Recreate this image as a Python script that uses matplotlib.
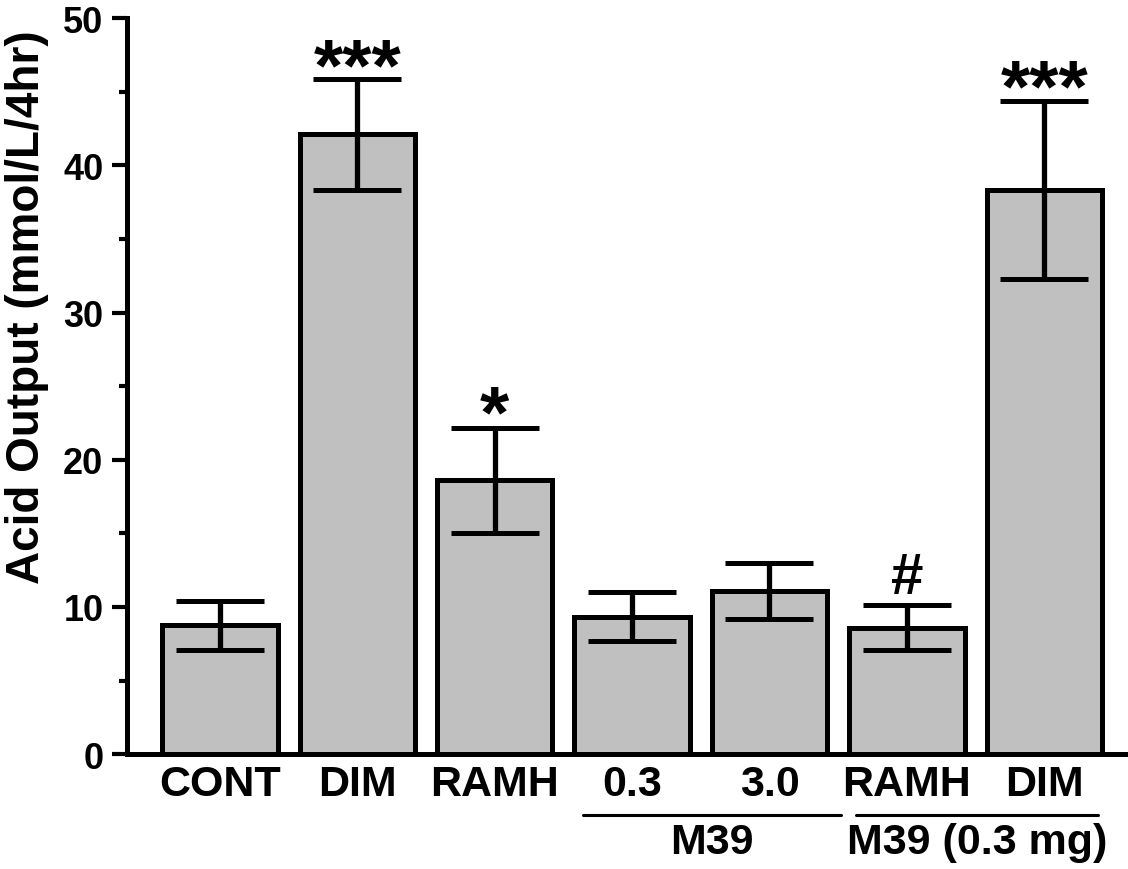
import matplotlib
matplotlib.use("Agg")
import matplotlib.pyplot as plt
from matplotlib.ticker import MultipleLocator

plt.rcParams["font.family"] = ["Liberation Sans", "DejaVu Sans"]
plt.rcParams["font.weight"] = "bold"

CATEGORIES = ["CONT", "DIM", "RAMH", "0.3", "3.0", "RAMH", "DIM"]
MEANS = [8.75, 42.1, 18.6, 9.35, 11.1, 8.6, 38.35]
ERRORS = [1.65, 3.75, 3.55, 1.65, 1.9, 1.5, 6.05]
MARKS = ["", "***", "*", "", "", "#", "***"]
GROUPS = [("M39", 2.64, 4.52), ("M39 (0.3 mg)", 4.63, 6.39)]

BAR_COLOR = "#c0c0c0"

fig = plt.figure(figsize=(11.28, 8.70), dpi=100)
ax = fig.add_axes([0.1126, 0.132, 0.8874, 0.846])

x = list(range(len(CATEGORIES)))
ax.bar(x, MEANS, width=0.84, color=BAR_COLOR, edgecolor="black", linewidth=3.6, zorder=2)
ax.errorbar(x, MEANS, yerr=ERRORS, fmt="none", ecolor="black", elinewidth=3.8,
            capsize=32, capthick=3.6, zorder=3)

# offsets tuned so the glyphs sit just above the caps
mark_style = {"***": (54, 0.65), "*": (54, 0.75), "#": (42, 1.9)}
for xi, m, e, mark in zip(x, MEANS, ERRORS, MARKS):
    if not mark:
        continue
    size, pad = mark_style[mark]
    ax.text(xi, m + e + pad, mark, ha="center", va="center", fontsize=size,
            fontweight="bold", zorder=4)

ax.set_xlim(-0.677, 6.61)
ax.set_ylim(0, 50)
ax.set_xticks(x, CATEGORIES)
ax.yaxis.set_major_locator(MultipleLocator(10))
ax.yaxis.set_minor_locator(MultipleLocator(5))
ax.tick_params(axis="x", length=0, pad=7, labelsize=31)
ax.tick_params(axis="y", which="major", direction="out", length=11, width=3, labelsize=26, pad=6)
ax.tick_params(axis="y", which="minor", direction="out", length=6, width=3)
for lab in ax.get_xticklabels() + ax.get_yticklabels():
    lab.set_fontweight("bold")

for side in ["top", "right"]:
    ax.spines[side].set_visible(False)
for side in ["left", "bottom"]:
    ax.spines[side].set_linewidth(3.6)

ax.set_ylabel("Acid Output (mmol/L/4hr)", fontsize=33, fontweight="bold", va="center")
ax.yaxis.set_label_coords(-0.1, 0.609)

trans = ax.get_xaxis_transform()
for name, x0, x1 in GROUPS:
    ax.plot([x0, x1], [-0.083, -0.083], color="black", linewidth=2.2, transform=trans,
            clip_on=False, solid_capstyle="round")
    ax.text((x0 + x1) / 2, -0.12, name, transform=trans, ha="center", va="center",
            fontsize=31, fontweight="bold")

fig.savefig("out.png", dpi=100)
